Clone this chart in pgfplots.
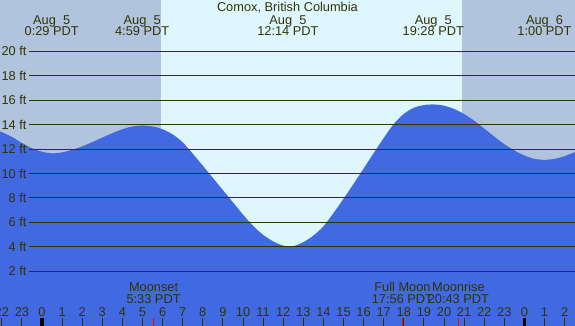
\documentclass[border=0pt]{standalone}
\usepackage{pgfplots}
\pgfplotsset{compat=1.18}
\usepackage{pgfplotstable}
\usepackage{fontspec}
\setmainfont{Liberation Sans}
\definecolor{night}{RGB}{176,196,222}
\definecolor{day}{RGB}{222,247,255}
\definecolor{water}{RGB}{65,105,225}
\definecolor{ink}{RGB}{51,51,0}
\newcommand\lbl{\fontsize{12.8bp}{15bp}\selectfont}
\pgfplotstableread{
t h
-2.09 13.45
-1.5 13.0
-1 12.5
-0.5 12.07
0 11.78
0.5 11.65
1 11.73
1.5 11.94
2 12.22
2.5 12.57
3 12.94
3.5 13.3
4 13.62
4.5 13.85
5 13.93
5.5 13.85
6 13.62
6.5 13.2
7 12.55
7.5 11.62
8 10.64
8.5 9.64
9 8.64
9.5 7.64
10 6.64
10.5 5.72
11 4.98
11.5 4.45
12 4.1
12.5 4.06
13 4.38
13.5 4.92
14 5.68
14.5 6.76
15 7.93
15.5 9.15
16 10.4
16.5 11.67
17 12.9
17.5 14.05
18 14.88
18.5 15.38
19 15.6
19.5 15.65
20 15.55
20.5 15.28
21 14.87
21.5 14.32
22 13.68
22.5 13.02
23 12.4
23.5 11.88
24 11.47
24.5 11.2
25 11.12
25.5 11.2
26 11.42
26.52 11.76
}\tide
\begin{document}
\begin{tikzpicture}
\begin{axis}[scale only axis, width=575bp, height=326bp,
  xmin=-2.0896, xmax=26.517, ymin=-2.48, ymax=24.2,
  axis lines=none, clip=true]
% night / day background
\addplot[draw=none, fill=night] coordinates {(-2.0896,-2.48) (26.517,-2.48) (26.517,24.2) (-2.0896,24.2)};
\addplot[draw=none, fill=day] coordinates {(5.92,-2.48) (20.896,-2.48) (20.896,24.2) (5.92,24.2)};
% water
\addplot[draw=none, fill=water, smooth, tension=0.5] table[x=t,y=h] {\tide} \closedcycle;
\addplot[draw=none, fill=water] coordinates {(-2.0896,-2.6) (26.6,-2.6) (26.6,0.5) (-2.0896,0.5)};
% grid lines and labels
\pgfplotsinvokeforeach{2,4,...,20}{
  \addplot[ink, line width=1.1bp] coordinates {(-0.647,#1) (26.6,#1)};
  \node[font=\lbl, text=ink, anchor=east, inner sep=0pt] at (axis cs:-0.761,#1) {#1 ft};
}
% hour ticks and labels
\pgfplotsinvokeforeach{-2,...,26}{
  \pgfmathtruncatemacro\hl{mod(#1+24,24)}
  \edef\temp{\noexpand\node[font=\noexpand\lbl, text=ink, anchor=base, inner sep=0pt] at (axis cs:#1,-1.71) {\hl};}
  \temp
  \draw[ink, line width=1bp] (axis cs:#1,-1.85) -- (axis cs:#1,-2.7);
}
\draw[black, line width=3.3bp] (axis cs:0,-1.82) -- (axis cs:0,-2.7);
\draw[black, line width=3.3bp] (axis cs:24,-1.82) -- (axis cs:24,-2.7);
\draw[red, line width=1bp] (axis cs:5.55,-1.82) -- (axis cs:5.55,-2.7);
\draw[red, line width=1bp] (axis cs:17.933,-1.82) -- (axis cs:17.933,-2.7);
\draw[red, line width=1bp] (axis cs:20.717,-1.82) -- (axis cs:20.717,-2.7);
% moon labels
\node[font=\lbl, text=ink, anchor=base, inner sep=0pt] at (axis cs:5.55,0.36) {Moonset};
\node[font=\lbl, text=ink, anchor=base, inner sep=0pt] at (axis cs:5.55,-0.60) {5:33 PDT};
\node[font=\lbl, text=ink, anchor=base, inner sep=0pt] at (axis cs:17.933,0.36) {Full Moon};
\node[font=\lbl, text=ink, anchor=base, inner sep=0pt] at (axis cs:17.933,-0.60) {17:56 PDT};
\node[font=\lbl, text=ink, anchor=base, inner sep=0pt] at (axis cs:20.717,0.36) {Moonrise};
\node[font=\lbl, text=ink, anchor=base, inner sep=0pt] at (axis cs:20.717,-0.60) {20:43 PDT};
% top labels
\node[font=\lbl, text=ink, anchor=base, inner sep=0pt] at (axis cs:12.21,23.24) {Comox, British Columbia};
\node[font=\lbl, text=ink, anchor=base, inner sep=0pt] at (axis cs:0.483,22.23) {Aug\ \ 5};
\node[font=\lbl, text=ink, anchor=base, inner sep=0pt] at (axis cs:0.483,21.28) {0:29 PDT};
\node[font=\lbl, text=ink, anchor=base, inner sep=0pt] at (axis cs:4.983,22.23) {Aug\ \ 5};
\node[font=\lbl, text=ink, anchor=base, inner sep=0pt] at (axis cs:4.983,21.28) {4:59 PDT};
\node[font=\lbl, text=ink, anchor=base, inner sep=0pt] at (axis cs:12.233,22.23) {Aug\ \ 5};
\node[font=\lbl, text=ink, anchor=base, inner sep=0pt] at (axis cs:12.233,21.28) {12:14 PDT};
\node[font=\lbl, text=ink, anchor=base, inner sep=0pt] at (axis cs:19.467,22.23) {Aug\ \ 5};
\node[font=\lbl, text=ink, anchor=base, inner sep=0pt] at (axis cs:19.467,21.28) {19:28 PDT};
\node[font=\lbl, text=ink, anchor=base, inner sep=0pt] at (axis cs:25.0,22.23) {Aug\ \ 6};
\node[font=\lbl, text=ink, anchor=base, inner sep=0pt] at (axis cs:25.0,21.28) {1:00 PDT};
\end{axis}
\pgfresetboundingbox
\path (current axis.south west) rectangle (current axis.north east);
\end{tikzpicture}
\end{document}
